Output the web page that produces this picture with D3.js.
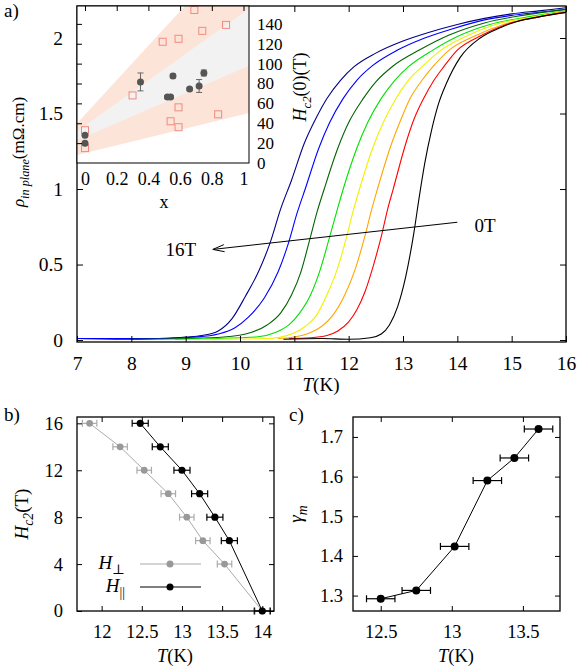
<!DOCTYPE html>
<html>
<head>
<meta charset="utf-8">
<script src="https://cdn.jsdelivr.net/npm/d3@7"></script>
<style>
body { margin: 0; background: #fff; }
svg, svg text { font-family: "Liberation Serif", "DejaVu Serif", "Times New Roman", serif; }
</style>
</head>
<body>
<svg id="chart" width="580" height="667"></svg>
<script>
// ---- panel a : resistivity curves, [T (K), rho (mOhm.cm)] ----
const curve16T = [[7,0.01],[8,0.005],[8.5,0.01],[9,0.02],[9.3,0.03],[9.6,0.06],[9.85,0.14],[10.1,0.29],[10.35,0.46],[10.56,0.65],[10.75,0.87],[10.95,1.06],[11.18,1.3],[11.4,1.47],[11.6,1.6],[11.85,1.72],[12.1,1.81],[12.5,1.9],[13,1.98],[13.5,2.04],[14,2.09],[14.5,2.13],[15,2.16],[15.5,2.18],[16,2.2]];
const curve14T = [[7,0.01],[8.5,0.01],[9.2,0.02],[9.6,0.04],[9.9,0.08],[10.15,0.15],[10.45,0.28],[10.7,0.45],[10.89,0.64],[11.05,0.84],[11.2,1],[11.45,1.27],[11.65,1.44],[11.9,1.6],[12.15,1.72],[12.45,1.82],[12.9,1.92],[13.4,2],[13.9,2.06],[14.5,2.12],[15,2.15],[15.5,2.17],[16,2.19]];
const curve12T = [[8,0.005],[9,0.01],[9.7,0.02],[10.2,0.05],[10.5,0.1],[10.75,0.18],[10.95,0.3],[11.12,0.45],[11.28,0.66],[11.42,0.85],[11.55,1],[11.8,1.27],[12,1.44],[12.27,1.6],[12.5,1.71],[12.8,1.81],[13.3,1.92],[13.85,2.02],[14.5,2.1],[15.2,2.15],[16,2.19]];
const curve10T = [[8.8,0.005],[9.5,0.01],[10.3,0.02],[10.65,0.05],[10.9,0.1],[11.1,0.18],[11.3,0.3],[11.48,0.47],[11.64,0.67],[11.78,0.85],[11.9,1],[12.15,1.27],[12.35,1.44],[12.6,1.6],[12.85,1.72],[13.1,1.81],[13.55,1.92],[14,2.01],[14.6,2.09],[15.3,2.14],[16,2.18]];
const curve8T = [[9.3,0.005],[10.5,0.01],[10.95,0.04],[11.2,0.09],[11.4,0.16],[11.6,0.3],[11.8,0.48],[11.96,0.68],[12.08,0.85],[12.2,1],[12.45,1.28],[12.65,1.45],[12.87,1.6],[13.1,1.72],[13.35,1.81],[13.7,1.92],[14.15,2.01],[14.7,2.09],[15.4,2.14],[16,2.18]];
const curve6T = [[10.7,0.01],[11,0.02],[11.3,0.05],[11.5,0.09],[11.7,0.16],[11.93,0.3],[12.13,0.48],[12.3,0.69],[12.42,0.86],[12.53,1],[12.77,1.28],[12.95,1.45],[13.13,1.6],[13.35,1.72],[13.55,1.81],[13.85,1.92],[14.3,2.01],[14.85,2.09],[15.5,2.14],[16,2.18]];
const curve4T = [[10.9,0.01],[11.3,0.015],[11.6,0.03],[11.8,0.06],[12,0.12],[12.15,0.2],[12.3,0.32],[12.46,0.5],[12.61,0.7],[12.72,0.87],[12.82,1],[13.05,1.3],[13.2,1.46],[13.38,1.6],[13.57,1.72],[13.75,1.81],[14,1.92],[14.4,2.01],[14.9,2.09],[15.5,2.14],[16,2.17]];
const curve0T = [[10.8,0.005],[11.5,0.01],[12,0.005],[12.4,0.015],[12.6,0.04],[12.75,0.1],[12.9,0.22],[13.05,0.42],[13.2,0.71],[13.3,0.95],[13.4,1.17],[13.52,1.38],[13.65,1.56],[13.8,1.7],[14.05,1.87],[14.42,2],[14.8,2.07],[15.1,2.11],[15.5,2.14],[16,2.17]];
const curveList = [curve16T, curve14T, curve12T, curve10T, curve8T, curve6T, curve4T, curve0T];
const curveColors = ["#00008b", "#0000ff", "#006400", "#00e000", "#f0f000", "#ffa500", "#ff0000", "#000000"];
const xTicksA = [7, 8, 9, 10, 11, 12, 13, 14, 15, 16];
const yTicksA = [0, 0.5, 1, 1.5, 2];
const arrowFrom = [14.0, 0.78], arrowTo = [9.5, 0.60];

// ---- inset : Hc2(0) vs x ----
const squaresX = [0.69, 0.89, 0.74, 0.49, 0.59, 0.30, 0.59, 0.84, 0.54, 0.59, 0, 0];
const squaresY = [154, 139, 133, 122, 125, 68, 56, 49, 42, 36, 33, 15];
const dotsX = [0, 0, 0.35, 0.555, 0.52, 0.54, 0.66, 0.72, 0.75];
const dotsY = [28, 20, 81.6, 87.6, 66.5, 66.5, 74.5, 77.5, 90.6];
const dotsErr = [1, 1, 9, 2, 1.5, 1.5, 1, 6.5, 3];
const bandX = [-0.05, 1.05];
const salmonHi = [40, 231], grayHi = [32, 157], grayLo = [23, 99], salmonLo = [8, 51];
const xTicksI = [0, 0.2, 0.4, 0.6, 0.8, 1];
const yTicksI = [0, 20, 40, 60, 80, 100, 120, 140];

// ---- panel b : Hc2 vs T ----
const hPerpT = [11.85, 12.23, 12.53, 12.83, 13.06, 13.26, 13.53, 14.0];
const hPerpH = [16, 14, 12, 10, 8, 6, 4, 0];
const hParT = [12.48, 12.73, 13.0, 13.22, 13.41, 13.59, 14.0];
const hParH = [16, 14, 12, 10, 8, 6, 0];
const xTicksB = [12, 12.5, 13, 13.5, 14];
const yTicksB = [0, 4, 8, 12, 16];

// ---- panel c : gamma_m vs T ----
const gammaT = [12.5, 12.75, 13.02, 13.25, 13.44, 13.61];
const gammaV = [1.292, 1.313, 1.424, 1.59, 1.647, 1.72];
const xTicksC = [12.5, 13, 13.5];
const yTicksC = [1.3, 1.4, 1.5, 1.6, 1.7];

const svg = d3.select("#chart");
svg.append("rect").attr("width", 580).attr("height", 667).attr("fill", "#fff");

// small helper for text with italics / subscripts
function rich(sel, parts, size) {
    let shift = 0;
    parts.forEach(p => {
        const want = p.sub ? size * 0.28 : 0;
        const ts = sel.append("tspan")
            .attr("font-size", p.sub ? size * 0.72 : size)
            .attr("dy", want - shift)
            .text(p.t);
        if (p.it) ts.attr("font-style", "italic");
        shift = want;
    });
    return sel;
}

// drop d3's own sans-serif so the page font is used
function plain(a) {
    a.attr("font-family", null).attr("font-size", null);
    a.select(".domain").remove();
}

function frameAxes(g, x, y, xt, yt, opt) {
    const ts = opt.tick;
    g.append("g").attr("transform", `translate(0,${y.range()[0]})`)
        .call(d3.axisBottom(x).tickValues(xt).tickSize(-ts).tickPadding(opt.xpad).tickFormat(d => String(d)))
        .call(plain)
        .selectAll("text").attr("font-size", opt.fs).attr("fill", "#000");
    g.append("g").attr("transform", `translate(0,${y.range()[1]})`)
        .call(d3.axisTop(x).tickValues(xt).tickSize(-ts).tickFormat(""))
        .call(plain);
    g.append("g").attr("transform", `translate(${x.range()[0]},0)`)
        .call(d3.axisLeft(y).tickValues(yt).tickSize(-ts).tickPadding(opt.ypad).tickFormat(d => String(d)))
        .call(plain)
        .selectAll("text").attr("font-size", opt.fs).attr("fill", "#000");
    g.append("g").attr("transform", `translate(${x.range()[1]},0)`)
        .call(d3.axisRight(y).tickValues(yt).tickSize(-ts).tickFormat(""))
        .call(plain);
    g.append("rect")
        .attr("x", x.range()[0]).attr("y", y.range()[1])
        .attr("width", x.range()[1] - x.range()[0]).attr("height", y.range()[0] - y.range()[1])
        .attr("fill", "none").attr("stroke", "#000").attr("stroke-width", 1.3);
}

// ================= panel a =================
const xA = d3.scaleLinear().domain([7, 16]).range([77, 566]);
const yA = d3.scaleLinear().domain([-0.013, 2.212]).range([342, 6]);
const gA = svg.append("g");
svg.append("clipPath").attr("id", "clipA").append("rect")
    .attr("x", 77).attr("y", 6).attr("width", 489).attr("height", 336);

const lineA = d3.line().curve(d3.curveMonotoneX).x(d => xA(d[0])).y(d => yA(d[1]));
gA.append("g").attr("clip-path", "url(#clipA)")
    .selectAll("path").data(curveList).join("path")
    .attr("d", lineA).attr("fill", "none")
    .attr("stroke", (d, i) => curveColors[i]).attr("stroke-width", 1.1);

// arrow 0T -> 16T
const ax1 = xA(arrowFrom[0]), ay1 = yA(arrowFrom[1]);
const ax2 = xA(arrowTo[0]), ay2 = yA(arrowTo[1]);
gA.append("line").attr("x1", ax1).attr("y1", ay1).attr("x2", ax2).attr("y2", ay2)
    .attr("stroke", "#000").attr("stroke-width", 1);
const ang = Math.atan2(ay1 - ay2, ax1 - ax2);
[-0.3, 0.3].forEach(da => {
    gA.append("line").attr("x1", ax2).attr("y1", ay2)
        .attr("x2", ax2 + 12 * Math.cos(ang + da)).attr("y2", ay2 + 12 * Math.sin(ang + da))
        .attr("stroke", "#000").attr("stroke-width", 1);
});
gA.append("text").attr("x", xA(14.51)).attr("y", yA(0.76)).attr("dy", "0.35em")
    .attr("text-anchor", "middle").attr("font-size", 19).text("0T");
gA.append("text").attr("x", xA(8.91)).attr("y", yA(0.60)).attr("dy", "0.35em")
    .attr("text-anchor", "middle").attr("font-size", 19).text("16T");

frameAxes(gA, xA, yA, xTicksA, yTicksA, { tick: 6, xpad: 14, ypad: 14, fs: 19.5 });

rich(svg.append("text").attr("x", 321).attr("y", 391).attr("text-anchor", "middle"),
    [{ t: "T", it: true }, { t: "(K)" }], 19);
rich(svg.append("text").attr("transform", "translate(24,152) rotate(-90)").attr("text-anchor", "middle"),
    [{ t: "ρ", it: true }, { t: "in plane", it: true, sub: true }, { t: "(mΩ.cm)" }], 17);
svg.append("text").attr("x", 4).attr("y", 17).attr("font-size", 19).text("a)");

// ================= inset =================
const xI = d3.scaleLinear().domain([-0.0505, 1.0347]).range([77, 249]);
const yI = d3.scaleLinear().domain([0, 158]).range([163, 6]);
const gI = svg.append("g");
gI.append("rect").attr("x", 77).attr("y", 6).attr("width", 172).attr("height", 157).attr("fill", "#fff");
svg.append("clipPath").attr("id", "clipI").append("rect")
    .attr("x", 77).attr("y", 6).attr("width", 172).attr("height", 157);
const bandG = gI.append("g").attr("clip-path", "url(#clipI)");
const band = (lo, hi) => [[bandX[0], lo[0]], [bandX[1], lo[1]], [bandX[1], hi[1]], [bandX[0], hi[0]]]
    .map(p => [xI(p[0]), yI(p[1])].join(",")).join(" ");
bandG.append("polygon").attr("points", band(salmonLo, salmonHi)).attr("fill", "#fde4d8");
bandG.append("polygon").attr("points", band(grayLo, grayHi)).attr("fill", "#f2f2f2");

const ptG = gI.append("g").attr("clip-path", "url(#clipI)");
squaresX.forEach((v, i) => {
    ptG.append("rect").attr("x", xI(v) - 3.5).attr("y", yI(squaresY[i]) - 3.5)
        .attr("width", 7).attr("height", 7)
        .attr("fill", "none").attr("stroke", "#f08a80").attr("stroke-width", 1);
});
dotsX.forEach((v, i) => {
    const cx = xI(v), y0 = yI(dotsY[i] - dotsErr[i]), y1 = yI(dotsY[i] + dotsErr[i]);
    ptG.append("line").attr("x1", cx).attr("x2", cx).attr("y1", y0).attr("y2", y1).attr("stroke", "#666");
    [y0, y1].forEach(yy => ptG.append("line").attr("x1", cx - 3).attr("x2", cx + 3)
        .attr("y1", yy).attr("y2", yy).attr("stroke", "#666"));
    ptG.append("circle").attr("cx", cx).attr("cy", yI(dotsY[i])).attr("r", 3.5).attr("fill", "#555");
});

gI.append("g").attr("transform", "translate(0,6)")
    .call(d3.axisTop(xI).tickValues(xTicksI).tickSize(-5).tickFormat(""))
    .call(plain);
gI.append("g").attr("transform", "translate(77,0)")
    .call(d3.axisLeft(yI).tickValues(yTicksI.slice(1)).tickSize(-5).tickFormat(""))
    .call(plain);
gI.append("g").attr("transform", "translate(0,163)")
    .call(d3.axisBottom(xI).tickValues(xTicksI).tickSize(0).tickPadding(9).tickFormat(d => String(d)))
    .call(plain)
    .selectAll("text").attr("font-size", 18).attr("fill", "#000");
gI.append("g").attr("transform", "translate(249,0)")
    .call(d3.axisRight(yI).tickValues(yTicksI).tickSize(0).tickPadding(8).tickFormat(d => String(d)))
    .call(plain)
    .selectAll("text").attr("font-size", 17).attr("fill", "#000");
gI.append("rect").attr("x", 77).attr("y", 6).attr("width", 172).attr("height", 157)
    .attr("fill", "none").attr("stroke", "#000").attr("stroke-width", 1);
gI.append("text").attr("x", 164).attr("y", 208).attr("text-anchor", "middle").attr("font-size", 18).text("x");
rich(gI.append("text").attr("transform", "translate(306,87) rotate(-90)").attr("text-anchor", "middle"),
    [{ t: "H", it: true }, { t: "c2", it: true, sub: true }, { t: "(0)(T)" }], 18);

// ================= panel b =================
const xB = d3.scaleLinear().domain([11.693, 14.146]).range([77, 274]);
const yB = d3.scaleLinear().domain([0, 16.54]).range([611, 417]);
const gB = svg.append("g");

function errSeries(g, x, y, xs, ys, err, col, lineCol, r) {
    const pts = xs.map((v, i) => [v, ys[i]]);
    g.append("path").datum(pts)
        .attr("d", d3.line().x(d => x(d[0])).y(d => y(d[1])))
        .attr("fill", "none").attr("stroke", lineCol).attr("stroke-width", 1);
    pts.forEach(p => {
        const cy = y(p[1]), xl = x(p[0] - err), xr = x(p[0] + err);
        g.append("line").attr("x1", xl).attr("x2", xr).attr("y1", cy).attr("y2", cy)
            .attr("stroke", lineCol).attr("stroke-width", 1.2);
        [xl, xr].forEach(xx => g.append("line").attr("x1", xx).attr("x2", xx)
            .attr("y1", cy - 3.5).attr("y2", cy + 3.5).attr("stroke", lineCol).attr("stroke-width", 1.2));
        g.append("circle").attr("cx", x(p[0])).attr("cy", cy).attr("r", r).attr("fill", col);
    });
}

errSeries(gB, xB, yB, hPerpT, hPerpH, 0.09, "#999", "#aaa", 3.4);
errSeries(gB, xB, yB, hParT, hParH, 0.1, "#000", "#000", 3.6);
frameAxes(gB, xB, yB, xTicksB, yTicksB, { tick: 5, xpad: 14, ypad: 14, fs: 18.5 });

// legend
[["#aaa", "#999", 564, "⊥"], ["#000", "#000", 587, "||"]].forEach(([lc, pc, ly, sub]) => {
    gB.append("line").attr("x1", 140).attr("x2", 201).attr("y1", ly).attr("y2", ly).attr("stroke", lc);
    gB.append("circle").attr("cx", 170).attr("cy", ly).attr("r", 3.5).attr("fill", pc);
    rich(gB.append("text").attr("x", 125).attr("y", ly + 5).attr("text-anchor", "end"),
        [{ t: "H", it: true }, { t: sub, sub: true }], 19);
});

rich(svg.append("text").attr("x", 175).attr("y", 662).attr("text-anchor", "middle"),
    [{ t: "T", it: true }, { t: "(K)" }], 18.5);
rich(svg.append("text").attr("transform", "translate(28,514) rotate(-90)").attr("text-anchor", "middle"),
    [{ t: "H", it: true }, { t: "c2", it: true, sub: true }, { t: "(T)" }], 19);
svg.append("text").attr("x", 4).attr("y", 421).attr("font-size", 19).text("b)");

// ================= panel c =================
const xC = d3.scaleLinear().domain([12.305, 13.761]).range([353, 560]);
const yC = d3.scaleLinear().domain([1.2611, 1.7503]).range([611, 417]);
const gC = svg.append("g");
errSeries(gC, xC, yC, gammaT, gammaV, 0.1, "#000", "#000", 4);
frameAxes(gC, xC, yC, xTicksC, yTicksC, { tick: 5, xpad: 14, ypad: 10, fs: 18.5 });

rich(svg.append("text").attr("x", 456).attr("y", 662).attr("text-anchor", "middle"),
    [{ t: "T", it: true }, { t: "(K)" }], 18.5);
rich(svg.append("text").attr("transform", "translate(302,514) rotate(-90)").attr("text-anchor", "middle"),
    [{ t: "γ", it: true }, { t: "m", it: true, sub: true }], 19);
svg.append("text").attr("x", 289).attr("y", 421).attr("font-size", 19).text("c)");
</script>
</body>
</html>
